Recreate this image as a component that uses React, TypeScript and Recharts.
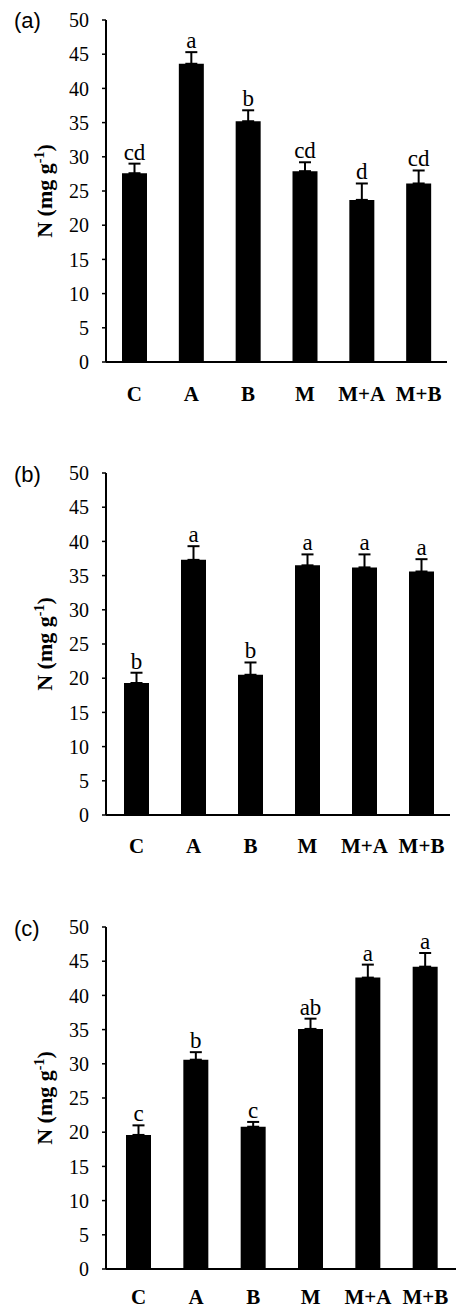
import React from 'react';
import { ComposedChart, Bar, XAxis, YAxis, ErrorBar, LabelList, Label } from 'recharts';

const categories = ['C', 'A', 'B', 'M', 'M+A', 'M+B'];
const yTicks = [0, 5, 10, 15, 20, 25, 30, 35, 40, 45, 50];

const valuesA = [27.6, 43.6, 35.2, 27.9, 23.7, 26.1];
const errorsA = [1.4, 1.7, 1.6, 1.3, 2.4, 1.9];
const lettersA = ['cd', 'a', 'b', 'cd', 'd', 'cd'];

const valuesB = [19.3, 37.3, 20.5, 36.5, 36.2, 35.6];
const errorsB = [1.5, 2.0, 1.8, 1.6, 1.9, 1.8];
const lettersB = ['b', 'a', 'b', 'a', 'a', 'a'];

const valuesC = [19.6, 30.6, 20.8, 35.1, 42.6, 44.2];
const errorsC = [1.4, 1.1, 0.7, 1.5, 1.9, 2.0];
const lettersC = ['c', 'b', 'c', 'ab', 'a', 'a'];

const SERIF = 'Liberation Serif';
const SANS = 'Liberation Sans';

function buildRows(values: number[], errors: number[], letters: string[]) {
  return categories.map((c, i) => ({ cat: c, n: values[i], err: [0, errors[i]], letter: letters[i] }));
}

function makeLetterRenderer(values: number[], errors: number[], letters: string[]) {
  return (props: any) => {
    const { x, y, width, height, index } = props;
    const i = typeof index === 'number' ? index : letters.indexOf(props.value);
    const v = values[i];
    const perUnit = Number(height) / v;
    const topY = Number(y) - errors[i] * perUnit;
    return (
      <text
        x={Number(x) + Number(width) / 2}
        y={topY - 4}
        textAnchor="middle"
        style={{ fontFamily: SERIF, fontSize: 23 }}
        fill="#000"
      >
        {letters[i]}
      </text>
    );
  };
}

const YLabel = (props: any) => {
  const { viewBox } = props;
  const cy = viewBox.y + viewBox.height / 2;
  const cx = 52;
  return (
    <text
      x={cx}
      y={cy}
      transform={`rotate(-90, ${cx}, ${cy})`}
      textAnchor="middle"
      style={{ fontFamily: SERIF, fontWeight: 'bold', fontSize: 22 }}
      fill="#000"
    >
      N (mg g
      <tspan dy={-8} style={{ fontSize: 14 }}>-1</tspan>
      <tspan dy={8}>)</tspan>
    </text>
  );
};

type PanelProps = {
  values: number[];
  errors: number[];
  letters: string[];
  rightMargin: number;
  padLeft: number;
  padRight: number;
  xMargin: number;
};

function Panel({ values, errors, letters, rightMargin, padLeft, padRight, xMargin }: PanelProps) {
  const data = buildRows(values, errors, letters);
  return (
    <ComposedChart
      width={456}
      height={412}
      data={data}
      margin={{ top: 20, right: rightMargin, left: 0, bottom: 0 }}
      style={{ fontFamily: SERIF }}
    >
      <XAxis
        dataKey="cat"
        height={50}
        tickLine={false}
        tickSize={0}
        tickMargin={xMargin}
        padding={{ left: padLeft, right: padRight }}
        axisLine={{ stroke: '#000', strokeWidth: 2 }}
        tick={{ fill: '#000', fontFamily: SERIF, fontWeight: 'bold', fontSize: 21, style: { fontFamily: SERIF } }}
        interval={0}
      />
      <YAxis
        width={106}
        domain={[0, 50]}
        ticks={yTicks}
        interval={0}
        tickSize={4}
        tickMargin={13}
        axisLine={{ stroke: '#000', strokeWidth: 2 }}
        tickLine={{ stroke: '#000', strokeWidth: 1.5 }}
        tick={{ fill: '#000', fontFamily: SERIF, fontSize: 20, style: { fontFamily: SERIF } }}
      >
        <Label content={<YLabel />} />
      </YAxis>
      <Bar dataKey="n" fill="#000" barSize={25} isAnimationActive={false}>
        <ErrorBar dataKey="err" width={6} stroke="#000" strokeWidth={2} direction="y" />
        <LabelList dataKey="letter" content={makeLetterRenderer(values, errors, letters)} />
      </Bar>
    </ComposedChart>
  );
}

const panelLabelStyle: React.CSSProperties = {
  position: 'absolute',
  left: 14,
  fontFamily: SANS,
  fontSize: 22,
  color: '#000',
  lineHeight: '24px',
};

export default function App() {
  return (
    <div style={{ position: 'absolute', left: 0, top: 0, width: 456, height: 1310, overflow: 'hidden', background: '#fff', fontFamily: SERIF }}>
      <div style={{ position: 'absolute', left: 0, top: 0 }}>
        <Panel values={valuesA} errors={errorsA} letters={lettersA} rightMargin={9} padLeft={0} padRight={0} xMargin={24} />
      </div>
      <div style={{ position: 'absolute', left: 0, top: 453 }}>
        <Panel values={valuesB} errors={errorsB} letters={lettersB} rightMargin={6} padLeft={2} padRight={0} xMargin={23} />
      </div>
      <div style={{ position: 'absolute', left: 0, top: 907 }}>
        <Panel values={valuesC} errors={errorsC} letters={lettersC} rightMargin={0} padLeft={4} padRight={2} xMargin={20} />
      </div>
      <div style={{ ...panelLabelStyle, top: 9 }}>(a)</div>
      <div style={{ ...panelLabelStyle, top: 463 }}>(b)</div>
      <div style={{ ...panelLabelStyle, top: 917 }}>(c)</div>
    </div>
  );
}
